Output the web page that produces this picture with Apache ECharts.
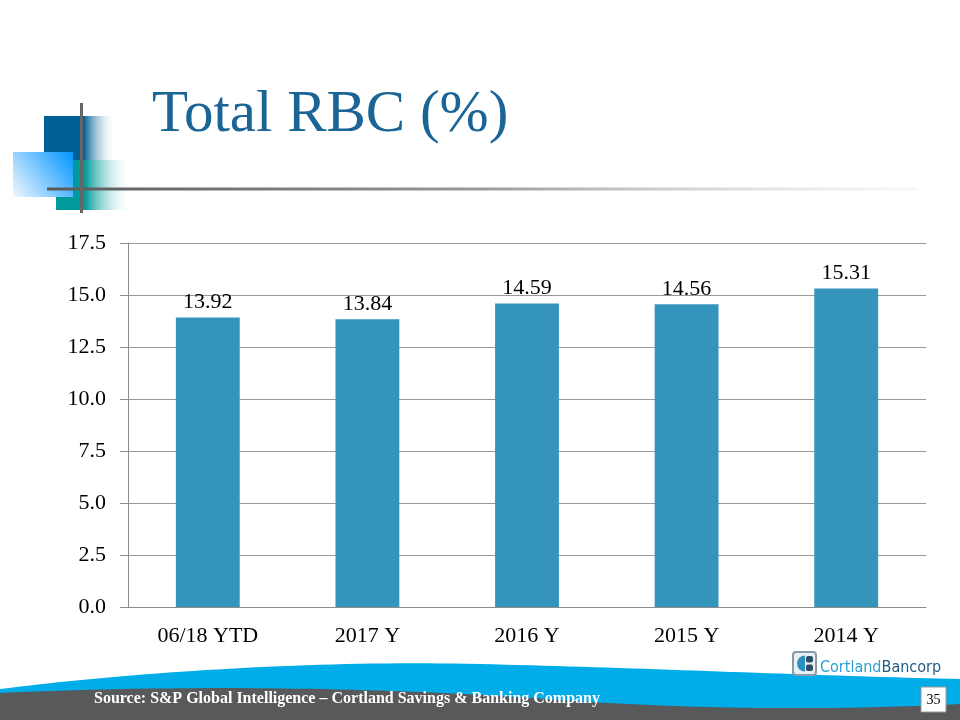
<!DOCTYPE html>
<html>
<head>
<meta charset="utf-8">
<script src="https://cdn.jsdelivr.net/npm/echarts@6/dist/echarts.min.js"></script>
<style>
html,body{margin:0;padding:0;background:#fff;}
#chart{width:960px;height:720px;}
</style>
</head>
<body>
<div id="chart"></div>
<script>
var titleText = 'Total RBC (%)';
var categories = ['06/18 YTD', '2017 Y', '2016 Y', '2015 Y', '2014 Y'];
var values = [13.92, 13.84, 14.59, 14.56, 15.31];
var sourceText = 'Source: S&P Global Intelligence \u2013 Cortland Savings & Banking Company';
var pageNumber = '35';

var serif = "'Liberation Serif', 'Times New Roman', serif";
var chart = echarts.init(document.getElementById('chart'), null, {renderer: 'canvas'});

function hGrad(stops) {
  return new echarts.graphic.LinearGradient(0, 0, 1, 0, stops);
}

// decorative wave outline: sample cubic bezier segments into polygon points
function bezierPts(p0, c1, c2, p1, n) {
  var pts = [];
  for (var i = 0; i <= n; i++) {
    var t = i / n, u = 1 - t;
    pts.push([
      u*u*u*p0[0] + 3*u*u*t*c1[0] + 3*u*t*t*c2[0] + t*t*t*p1[0],
      u*u*u*p0[1] + 3*u*u*t*c1[1] + 3*u*t*t*c2[1] + t*t*t*p1[1]
    ]);
  }
  return pts;
}
function wave(segs) {
  var pts = [];
  segs.forEach(function (s, i) {
    var p = bezierPts(s[0], s[1], s[2], s[3], 40);
    if (i > 0) p.shift();
    pts = pts.concat(p);
  });
  pts.push([960, 720], [0, 720]);
  return pts;
}
var blueWave = wave([
  [[0, 689], [120, 674], [300, 660], [480, 664]],
  [[480, 664], [650, 668], [820, 676], [960, 679]]
]);
var grayWave = wave([
  [[0, 693], [200, 684], [400, 688], [560, 700]],
  [[560, 700], [700, 710], [850, 710], [960, 704]]
]);

var option = {
  backgroundColor: '#ffffff',
  animation: false,
  grid: {left: 128, right: 34, top: 243, bottom: 113},
  xAxis: {
    type: 'category',
    data: categories,
    axisTick: {show: false},
    axisLine: {lineStyle: {color: '#8c8c8c', width: 1}},
    axisLabel: {color: '#000', fontFamily: serif, fontSize: 22, margin: 18}
  },
  yAxis: {
    type: 'value',
    min: 0, max: 17.5, interval: 2.5,
    axisLine: {show: true, lineStyle: {color: '#8c8c8c', width: 1}},
    axisTick: {show: true, length: 8, lineStyle: {color: '#8c8c8c'}},
    splitLine: {lineStyle: {color: '#999999', width: 1}},
    axisLabel: {
      color: '#000', fontFamily: serif, fontSize: 22, margin: 22,
      formatter: function (v) { return v.toFixed(1); }
    }
  },
  series: [{
    type: 'bar',
    data: values,
    barWidth: '40%',
    itemStyle: {color: '#3594BB'},
    label: {
      show: true, position: 'top', distance: 4,
      color: '#000', fontFamily: serif, fontSize: 22,
      formatter: function (p) { return p.value.toFixed(2); }
    }
  }],
  graphic: [
    // decorative squares
    {type: 'rect', shape: {x: 44, y: 116, width: 72, height: 44},
     style: {fill: hGrad([{offset: 0, color: '#005F95'}, {offset: 0.55, color: '#005F95'}, {offset: 1, color: 'rgba(255,255,255,0)'}])}},
    {type: 'rect', shape: {x: 56, y: 160, width: 76, height: 50},
     style: {fill: hGrad([{offset: 0, color: '#009A9A'}, {offset: 0.38, color: '#009A9A'}, {offset: 1, color: 'rgba(255,255,255,0)'}])}},
    {type: 'rect', shape: {x: 13, y: 152, width: 60, height: 45},
     style: {fill: new echarts.graphic.LinearGradient(1, 0, 0, 1, [{offset: 0, color: '#0094FF'}, {offset: 1, color: '#F2F8FF'}])}},
    {type: 'rect', shape: {x: 47, y: 187.5, width: 870, height: 3},
     style: {fill: hGrad([{offset: 0, color: '#5a5a5a'}, {offset: 0.5, color: '#9a9a9a'}, {offset: 1, color: 'rgba(230,230,230,0.3)'}])}},
    {type: 'rect', shape: {x: 80, y: 103, width: 3, height: 110}, style: {fill: '#666666'}},
    // title
    {type: 'text', x: 152, y: 115,
     style: {text: titleText, fill: '#1B6496', font: '59px ' + serif, verticalAlign: 'middle', align: 'left'}},
    // bottom waves
    {type: 'polygon', shape: {points: blueWave}, style: {fill: '#00ADE9'}},
    {type: 'polygon', shape: {points: grayWave}, style: {fill: '#58595B'}},
    {type: 'text', x: 94, y: 699,
     style: {text: sourceText, fill: '#ffffff', font: 'bold 16px ' + serif, verticalAlign: 'middle', align: 'left'}},
    // page number
    {type: 'rect', shape: {x: 921, y: 687, width: 25, height: 25}, style: {fill: '#ffffff', stroke: '#9a9a9a', lineWidth: 1}},
    {type: 'text', x: 933.5, y: 700,
     style: {text: pageNumber, fill: '#000', font: '14px ' + serif, align: 'center', verticalAlign: 'middle'}},
    // logo
    {type: 'rect', shape: {x: 793, y: 652, width: 23, height: 23, r: 3}, style: {fill: '#E9EFF3', stroke: '#8A9BA8', lineWidth: 2}},
    {type: 'sector', shape: {cx: 805, cy: 663.5, r: 8, startAngle: Math.PI / 2, endAngle: Math.PI * 1.5}, style: {fill: '#2A8FC1'}},
    {type: 'rect', shape: {x: 806, y: 656, width: 7, height: 6.5, r: 2}, style: {fill: '#2B4E68'}},
    {type: 'rect', shape: {x: 806, y: 664.5, width: 7, height: 6.5, r: 2}, style: {fill: '#2B4E68'}},
    {type: 'text', x: 820, y: 668,
     style: {text: '{a|Cortland}{b|Bancorp}', verticalAlign: 'middle', align: 'left',
       rich: {
         a: {fill: '#2B9FD3', fontSize: 16, fontFamily: "'Liberation Sans Narrow', 'DejaVu Sans Condensed', sans-serif"},
         b: {fill: '#1E5A82', fontSize: 16, fontFamily: "'Liberation Sans Narrow', 'DejaVu Sans Condensed', sans-serif"}
       }}}
  ]
};
chart.setOption(option);
</script>
</body>
</html>
